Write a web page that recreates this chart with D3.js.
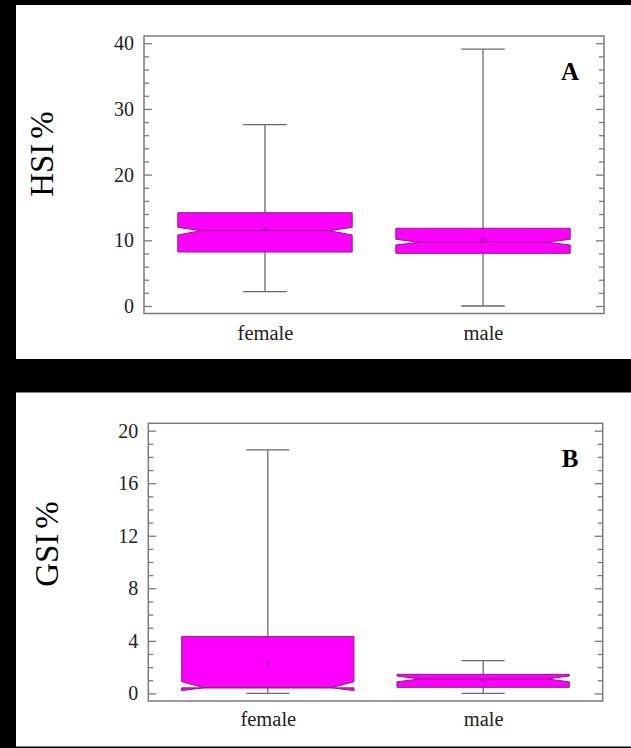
<!DOCTYPE html>
<html>
<head>
<meta charset="utf-8">
<script src="https://cdn.jsdelivr.net/npm/d3@7/dist/d3.min.js"></script>
<style>
  html, body { margin: 0; padding: 0; background: #000; }
  svg { display: block; }
</style>
</head>
<body>
<svg id="chart" width="631" height="748"></svg>
<script>
// Groups on the x axis
const categories = ["female", "male"];

// Panel A: hepatosomatic index (HSI %) per group
const hsiMin      = [2.2, 0.0];
const hsiQ1       = [8.22, 8.02];
const hsiNotchLo  = [10.81, 9.29];
const hsiMedian   = [11.47, 9.70];
const hsiNotchHi  = [11.98, 10.16];
const hsiQ3       = [14.2, 11.83];
const hsiMax      = [27.6, 39.1];
const hsiMean     = [11.68, 10.05];
const hsiTicks    = [0, 10, 20, 30, 40];
const hsiMinor    = [2, 4, 6, 8, 12, 14, 16, 18, 22, 24, 26, 28, 32, 34, 36, 38];

// Panel B: gonadosomatic index (GSI %) per group
const gsiMin      = [0.0, 0.0];
const gsiQ1       = [0.42, 0.46];
const gsiNotchLo  = [0.21, 0.88];
const gsiMedian   = [0.43, 1.10];
const gsiNotchHi  = [0.89, 1.32];
const gsiQ3       = [4.32, 1.45];
const gsiMax      = [18.53, 2.49];
const gsiMean     = [2.34, 1.02];
const gsiTicks    = [0, 4, 8, 12, 16, 20];
const gsiMinor    = [1, 2, 3, 5, 6, 7, 9, 10, 11, 13, 14, 15, 17, 18, 19];

const SERIF = "'Liberation Serif', 'Times New Roman', serif";
const FRAME = "#7a7a7a";
const FILL = "#ff00ff";
const EDGE = "#8a1c8a";

const svg = d3.select("#chart");

function drawPanel(cfg) {
  const g = svg.append("g");

  // white card behind the plot
  g.append("rect")
    .attr("x", cfg.card[0]).attr("y", cfg.card[1])
    .attr("width", cfg.card[2]).attr("height", cfg.card[3])
    .attr("fill", "#fff");

  const y = d3.scaleLinear().domain(cfg.domain).range([cfg.bottom, cfg.top]);
  const x = d3.scalePoint().domain(categories).range([cfg.left, cfg.right]).padding(0.555);
  const step = x.step();
  const half = step * 0.4;
  const cap = step * 0.1;
  const indent = step * 0.105;

  // tick marks on both vertical sides, pointing inward
  const axisStyle = sel => {
    sel.select(".domain").remove();
    sel.selectAll("line").attr("stroke", FRAME).attr("stroke-width", 1.3);
    sel.selectAll("text").attr("font-family", SERIF).attr("font-size", 20).attr("fill", "#222");
  };
  g.append("g").attr("transform", `translate(${cfg.left},0)`)
    .call(d3.axisLeft(y).tickValues(cfg.ticks).tickSize(-8).tickPadding(10).tickFormat(d3.format("d")))
    .call(axisStyle);
  g.append("g").attr("transform", `translate(${cfg.left},0)`)
    .call(d3.axisLeft(y).tickValues(cfg.minor).tickSize(-5).tickFormat(""))
    .call(axisStyle);
  g.append("g").attr("transform", `translate(${cfg.right},0)`)
    .call(d3.axisRight(y).tickValues(cfg.ticks).tickSize(-8).tickFormat(""))
    .call(axisStyle);
  g.append("g").attr("transform", `translate(${cfg.right},0)`)
    .call(d3.axisRight(y).tickValues(cfg.minor).tickSize(-5).tickFormat(""))
    .call(axisStyle);

  // category labels under the frame
  g.append("g").attr("transform", `translate(0,${cfg.bottom})`)
    .call(d3.axisBottom(x).tickSize(0).tickPadding(cfg.catPad))
    .call(sel => {
      sel.select(".domain").remove();
      sel.selectAll("text").attr("font-family", SERIF).attr("font-size", 20.5).attr("fill", "#222");
    });

  const d = cfg.data;
  categories.forEach((c, i) => {
    const cx = x(c);
    const L = cx - half, R = cx + half;

    // whisker stem and caps
    g.append("line").attr("x1", cx).attr("x2", cx)
      .attr("y1", y(d.max[i])).attr("y2", y(d.min[i]))
      .attr("stroke", "#6a6a6a").attr("stroke-width", 1.3);
    [d.max[i], d.min[i]].forEach(v => {
      g.append("line").attr("x1", cx - cap).attr("x2", cx + cap)
        .attr("y1", y(v)).attr("y2", y(v))
        .attr("stroke", "#6a6a6a").attr("stroke-width", 1.3);
    });

    // notched box
    const pts = [
      [L, y(d.q3[i])], [L, y(d.nHi[i])], [L + indent, y(d.med[i])], [L, y(d.nLo[i])],
      [L, y(d.q1[i])], [R, y(d.q1[i])], [R, y(d.nLo[i])], [R - indent, y(d.med[i])],
      [R, y(d.nHi[i])], [R, y(d.q3[i])]
    ];
    g.append("path")
      .attr("d", d3.line()(pts) + "Z")
      .attr("fill", FILL).attr("stroke", EDGE).attr("stroke-width", 1)
      .attr("stroke-linejoin", "miter");

    // median
    g.append("line").attr("x1", L + indent).attr("x2", R - indent)
      .attr("y1", y(d.med[i])).attr("y2", y(d.med[i]))
      .attr("stroke", EDGE).attr("stroke-width", 1);

    // mean marker
    const my = y(d.mean[i]);
    g.append("path")
      .attr("d", `M${cx - 2.5},${my}H${cx + 2.5}M${cx},${my - 2.5}V${my + 2.5}`)
      .attr("stroke", EDGE).attr("stroke-width", 1);
  });

  // plot frame
  g.append("rect")
    .attr("x", cfg.left).attr("y", cfg.top)
    .attr("width", cfg.right - cfg.left).attr("height", cfg.bottom - cfg.top)
    .attr("fill", "none").attr("stroke", FRAME).attr("stroke-width", 1.5);

  // y-axis title: index name, then a slightly separated percent sign
  const t = g.append("text")
    .attr("transform", `translate(${cfg.titleX},${cfg.titleY}) rotate(-90)`)
    .attr("text-anchor", "middle")
    .attr("font-family", SERIF).attr("font-size", 33)
    .attr("fill", "#000");
  t.append("tspan").text(cfg.title[0]);
  t.append("tspan").attr("dx", 5).text(cfg.title[1]);

  // panel tag
  g.append("text")
    .attr("x", cfg.tagX).attr("y", cfg.tagY)
    .attr("text-anchor", "middle")
    .attr("font-family", SERIF).attr("font-size", 25).attr("font-weight", "bold").attr("fill", "#000")
    .text(cfg.tag);
}

drawPanel({
  card: [16, 5, 615, 354],
  left: 144, right: 604, top: 36, bottom: 313.5,
  domain: [-1.14, 41.1],
  ticks: hsiTicks, minor: hsiMinor,
  catPad: 12,
  title: ["HSI", "%"], titleX: 53, titleY: 154,
  tag: "A", tagX: 570, tagY: 80,
  data: { min: hsiMin, q1: hsiQ1, nLo: hsiNotchLo, med: hsiMedian, nHi: hsiNotchHi,
          q3: hsiQ3, max: hsiMax, mean: hsiMean }
});

drawPanel({
  card: [16, 392.5, 615, 354],
  left: 148.3, right: 602.7, top: 423.3, bottom: 701,
  domain: [-0.58, 20.56],
  ticks: gsiTicks, minor: gsiMinor,
  catPad: 10,
  title: ["GSI", "%"], titleX: 58, titleY: 544,
  tag: "B", tagX: 570, tagY: 466.7,
  data: { min: gsiMin, q1: gsiQ1, nLo: gsiNotchLo, med: gsiMedian, nHi: gsiNotchHi,
          q3: gsiQ3, max: gsiMax, mean: gsiMean }
});
</script>
</body>
</html>
